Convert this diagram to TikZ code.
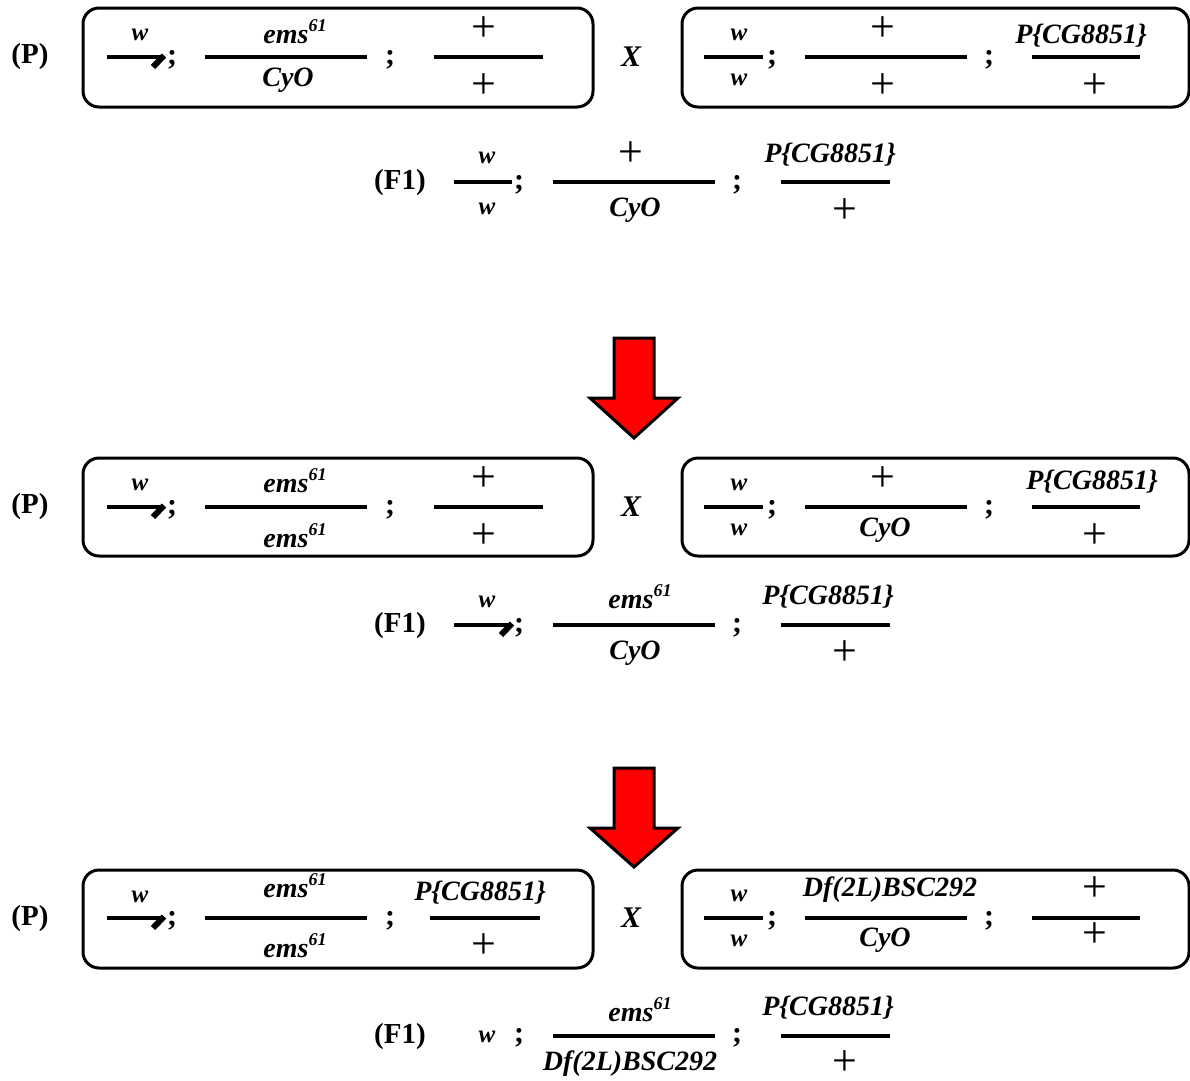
\documentclass[tikz,border=0pt]{standalone}
\usepackage{fontspec}
\setmainfont{Liberation Serif}
\begin{document}
\begin{tikzpicture}[x=1pt,y=-1pt,
  every node/.style={inner sep=0pt,outer sep=0pt},
  gen/.style={font=\bfseries\fontsize{29}{31}\selectfont},
  allele/.style={font=\bfseries\itshape\fontsize{28}{30}\selectfont},
  wlabel/.style={font=\bfseries\itshape\fontsize{25}{27}\selectfont},
  plus/.style={font=\fontsize{44}{44}\selectfont},
  semi/.style={font=\bfseries\fontsize{30}{32}\selectfont},
  cross/.style={font=\bfseries\itshape\fontsize{30}{32}\selectfont},
  bar/.style={line width=4pt},
  hook/.style={line width=6pt},
  parent/.style={line width=3pt,rounded corners=16pt},
  downarrow/.style={fill={rgb,255:red,255;green,0;blue,0},draw=black,line width=3pt,line join=miter}]
\newcommand{\ems}{ems\raisebox{0.42em}{\fontsize{18}{18}\selectfont 61}}
\newcommand{\pcg}{P\{CG8851\}}
\newcommand{\dfl}{Df(2L)BSC292}
% Y chromosome: bar with a hooked right end, left x, right x, y
\newcommand{\ysym}[3]{%
  \draw[bar] (#1,#3) -- (#2,#3);
  \draw[hook] (#2+1,#3-1.5) -- (#2-10,#3+10);}
\useasboundingbox (0,0) rectangle (1190,1080);

% ---------- first cross ----------
\node[gen] (pa) at (30,57) {(P)};
\draw[parent] (83,8) rectangle (593,107);
\node[wlabel] (pa-w) at (140,35) {w};
\ysym{107}{163}{57}
\node[semi] (pa-s1) at (172,60) {;};
\node[allele] (pa-2t) at (295,32) {\ems};
\draw[bar] (205,57) -- (367,57);
\node[allele] (pa-2b) at (288,80) {CyO};
\node[semi] (pa-s2) at (390,60) {;};
\node[plus] (pa-3t) at (484,29) {+};
\draw[bar] (434,57) -- (543,57);
\node[plus] (pa-3b) at (484,86) {+};
\node[cross] (xa) at (631,57) {X};
\draw[parent] (682,8) rectangle (1189,107);
\node[wlabel] (pb-1t) at (739,35) {w};
\draw[bar] (704,57) -- (763,57);
\node[wlabel] (pb-1b) at (739,80) {w};
\node[semi] (pb-s1) at (772,60) {;};
\node[plus] (pb-2t) at (883,29) {+};
\draw[bar] (805,57) -- (967,57);
\node[plus] (pb-2b) at (883,86) {+};
\node[semi] (pb-s2) at (989,60) {;};
\node[allele] (pb-3t) at (1081,36) {\pcg};
\draw[bar] (1032,57) -- (1140,57);
\node[plus] (pb-3b) at (1095,86) {+};

\node[gen] (fa) at (400,183) {(F1)};
\node[wlabel] (fa-1t) at (487,158) {w};
\draw[bar] (454,182) -- (512,182);
\node[wlabel] (fa-1b) at (487,209) {w};
\node[semi] (fa-s1) at (519,185) {;};
\node[plus] (fa-2t) at (631,154) {+};
\draw[bar] (553,182) -- (715,182);
\node[allele] (fa-2b) at (635,210) {CyO};
\node[semi] (fa-s2) at (737,185) {;};
\node[allele] (fa-3t) at (830,155) {\pcg};
\draw[bar] (781,182) -- (890,182);
\node[plus] (fa-3b) at (845,211) {+};

\draw[downarrow] (614,338) -- (654,338) -- (654,398) -- (678,398) -- (634,438)
  -- (590,398) -- (614,398) -- cycle;

% ---------- second cross ----------
\node[gen] (pc) at (30,507) {(P)};
\draw[parent] (83,458) rectangle (593,556);
\node[wlabel] (pc-w) at (140,485) {w};
\ysym{107}{163}{507}
\node[semi] (pc-s1) at (172,510) {;};
\node[allele] (pc-2t) at (295,481) {\ems};
\draw[bar] (205,507) -- (367,507);
\node[allele] (pc-2b) at (295,536) {\ems};
\node[semi] (pc-s2) at (390,510) {;};
\node[plus] (pc-3t) at (484,479) {+};
\draw[bar] (434,507) -- (543,507);
\node[plus] (pc-3b) at (484,536) {+};
\node[cross] (xb) at (631,507) {X};
\draw[parent] (682,458) rectangle (1189,556);
\node[wlabel] (pd-1t) at (739,485) {w};
\draw[bar] (704,507) -- (763,507);
\node[wlabel] (pd-1b) at (739,530) {w};
\node[semi] (pd-s1) at (772,510) {;};
\node[plus] (pd-2t) at (883,479) {+};
\draw[bar] (805,507) -- (967,507);
\node[allele] (pd-2b) at (885,530) {CyO};
\node[semi] (pd-s2) at (989,510) {;};
\node[allele] (pd-3t) at (1092,482) {\pcg};
\draw[bar] (1032,507) -- (1140,507);
\node[plus] (pd-3b) at (1095,536) {+};

\node[gen] (fb) at (400,626) {(F1)};
\node[wlabel] (fb-w) at (487,602) {w};
\ysym{454}{511}{625}
\node[semi] (fb-s1) at (519,628) {;};
\node[allele] (fb-2t) at (640,597) {\ems};
\draw[bar] (553,625) -- (715,625);
\node[allele] (fb-2b) at (635,653) {CyO};
\node[semi] (fb-s2) at (737,628) {;};
\node[allele] (fb-3t) at (828,597) {\pcg};
\draw[bar] (781,625) -- (890,625);
\node[plus] (fb-3b) at (845,653) {+};

\draw[downarrow] (614,768) -- (654,768) -- (654,828) -- (678,828) -- (634,867)
  -- (590,828) -- (614,828) -- cycle;

% ---------- third cross ----------
\node[gen] (pe) at (30,919) {(P)};
\draw[parent] (83,870) rectangle (593,968);
\node[wlabel] (pe-w) at (140,897) {w};
\ysym{107}{163}{918}
\node[semi] (pe-s1) at (172,921) {;};
\node[allele] (pe-2t) at (295,886) {\ems};
\draw[bar] (205,918) -- (367,918);
\node[allele] (pe-2b) at (295,946) {\ems};
\node[semi] (pe-s2) at (390,921) {;};
\node[allele] (pe-3t) at (480,893) {\pcg};
\draw[bar] (430,918) -- (540,918);
\node[plus] (pe-3b) at (484,946) {+};
\node[cross] (xc) at (631,918) {X};
\draw[parent] (682,870) rectangle (1189,968);
\node[wlabel] (pf-1t) at (739,896) {w};
\draw[bar] (704,918) -- (763,918);
\node[wlabel] (pf-1b) at (739,941) {w};
\node[semi] (pf-s1) at (772,921) {;};
\node[allele] (pf-2t) at (890,890) {\dfl};
\draw[bar] (805,918) -- (967,918);
\node[allele] (pf-2b) at (885,940) {CyO};
\node[semi] (pf-s2) at (989,921) {;};
\node[plus] (pf-3t) at (1095,889) {+};
\draw[bar] (1032,918) -- (1140,918);
\node[plus] (pf-3b) at (1095,935) {+};

\node[gen] (fc) at (400,1037) {(F1)};
\node[wlabel] (fc-w) at (487,1037) {w};
\node[semi] (fc-s1) at (519,1038) {;};
\node[allele] (fc-2t) at (640,1010) {\ems};
\draw[bar] (553,1036) -- (715,1036);
\node[allele] (fc-2b) at (630,1064) {\dfl};
\node[semi] (fc-s2) at (737,1038) {;};
\node[allele] (fc-3t) at (828,1008) {\pcg};
\draw[bar] (781,1036) -- (890,1036);
\node[plus] (fc-3b) at (845,1063) {+};
\end{tikzpicture}
\end{document}
